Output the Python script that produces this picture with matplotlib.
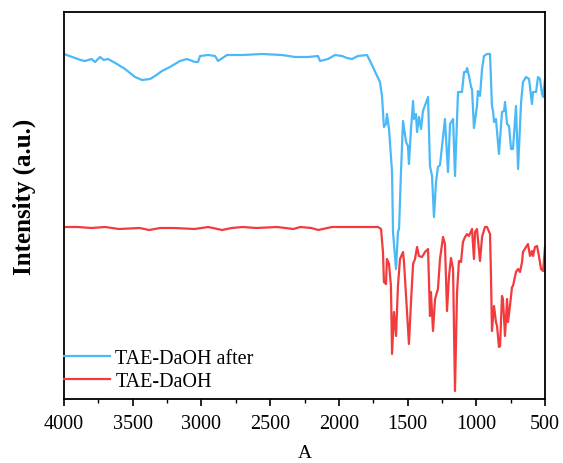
import numpy as np
import matplotlib
matplotlib.use("Agg")
import matplotlib.pyplot as plt
from matplotlib.ticker import MultipleLocator

# FTIR spectra (wavenumber in cm-1, intensity in a.u.)
wn_after = [4000, 3960, 3920, 3880, 3847, 3800, 3774, 3738, 3710, 3680, 3614, 3556,
            3483, 3432, 3374, 3338, 3287, 3229, 3156, 3105, 3047, 3025, 3010, 2952,
            2901, 2879, 2814, 2705, 2559, 2414, 2319, 2225, 2152, 2137, 2079, 2028,
            1977, 1941, 1904, 1861, 1795, 1773, 1752, 1722, 1701, 1686, 1672, 1657,
            1650, 1635, 1613, 1606, 1584, 1570, 1562, 1548, 1533, 1511, 1497, 1490,
            1475, 1460, 1453, 1439, 1431, 1417, 1402, 1388, 1351, 1337, 1322, 1308,
            1293, 1279, 1264, 1228, 1206, 1191, 1169, 1155, 1133, 1104, 1089, 1075,
            1067, 1053, 1038, 1031, 1017, 995, 988, 973, 958, 944, 922, 900, 886,
            878, 871, 857, 835, 813, 798, 791, 776, 762, 747, 733, 711, 696, 674,
            660, 638, 616, 595, 587, 565, 551, 536, 522, 514, 500]
int_after = [3.45, 3.43, 3.41, 3.39, 3.38, 3.40, 3.37, 3.42, 3.39, 3.40, 3.35, 3.30,
             3.22, 3.19, 3.20, 3.23, 3.28, 3.32, 3.38, 3.40, 3.37, 3.37, 3.43, 3.44,
             3.43, 3.38, 3.44, 3.44, 3.45, 3.44, 3.42, 3.42, 3.43, 3.38, 3.40, 3.44,
             3.43, 3.41, 3.40, 3.43, 3.44, 3.38, 3.32, 3.23, 3.17, 3.03, 2.72, 2.75,
             2.85, 2.70, 2.27, 1.67, 1.30, 1.67, 1.70, 2.27, 2.78, 2.57, 2.53, 2.35,
             2.70, 2.98, 2.80, 2.85, 2.67, 2.82, 2.70, 2.88, 3.02, 2.33, 2.23, 1.82,
             2.17, 2.32, 2.34, 2.80, 2.27, 2.75, 2.80, 2.23, 3.07, 3.07, 3.27, 3.27,
             3.31, 3.23, 3.12, 3.10, 2.71, 2.93, 3.08, 3.03, 3.30, 3.43, 3.45, 3.45,
             2.93, 2.88, 2.77, 2.80, 2.45, 2.87, 2.88, 2.97, 2.75, 2.73, 2.50, 2.50,
             2.93, 2.30, 2.97, 3.17, 3.22, 3.20, 2.95, 3.07, 3.07, 3.22, 3.20, 3.05,
             3.02, 3.20]

wn_before = [4000, 3900, 3800, 3700, 3600, 3450, 3380, 3300, 3200, 3050, 2950, 2850,
             2780, 2700, 2600, 2450, 2330, 2280, 2200, 2150, 2050, 1950, 1846, 1715,
             1693, 1679, 1672, 1657, 1650, 1635, 1621, 1613, 1599, 1584, 1570, 1555,
             1533, 1526, 1504, 1490, 1475, 1460, 1446, 1431, 1417, 1395, 1373, 1351,
             1337, 1330, 1315, 1300, 1279, 1264, 1242, 1228, 1213, 1199, 1184, 1169,
             1155, 1140, 1126, 1111, 1097, 1082, 1067, 1053, 1031, 1017, 1009, 995,
             988, 973, 958, 937, 922, 900, 893, 886, 871, 857, 849, 835, 827, 813,
             806, 791, 776, 769, 755, 740, 733, 711, 696, 682, 667, 660, 638, 624,
             609, 595, 587, 573, 558, 544, 529, 514, 500]
int_before = [1.72, 1.72, 1.71, 1.72, 1.70, 1.71, 1.69, 1.71, 1.71, 1.70, 1.72, 1.69,
              1.71, 1.72, 1.71, 1.72, 1.70, 1.72, 1.71, 1.69, 1.72, 1.72, 1.72, 1.72,
              1.70, 1.47, 1.17, 1.15, 1.40, 1.35, 1.13, 0.45, 0.87, 0.63, 1.13, 1.40,
              1.47, 1.37, 0.87, 0.55, 0.97, 1.35, 1.40, 1.52, 1.43, 1.42, 1.47, 1.50,
              0.83, 1.07, 0.68, 1.00, 1.10, 1.40, 1.62, 1.55, 0.88, 1.22, 1.41, 1.30,
              0.08, 1.07, 1.38, 1.37, 1.57, 1.62, 1.65, 1.63, 1.70, 1.40, 1.67, 1.70,
              1.60, 1.38, 1.62, 1.72, 1.72, 1.65, 1.23, 0.68, 0.93, 0.77, 0.73, 0.52,
              0.53, 1.03, 1.00, 0.63, 1.00, 0.77, 0.93, 1.12, 1.13, 1.27, 1.30, 1.27,
              1.37, 1.47, 1.52, 1.55, 1.43, 1.48, 1.43, 1.52, 1.53, 1.43, 1.30, 1.28,
              1.52]

labels = ["TAE-DaOH after", "TAE-DaOH"]
colors = ["#4BB9F7", "#F13B3D"]

plt.rcParams['font.family'] = ['Liberation Serif', 'DejaVu Serif']

fig = plt.figure(figsize=(5.63, 4.64), dpi=100)
ax = fig.add_axes([64 / 563, 1 - 400 / 464, 481 / 563, 387 / 464])

ax.plot(wn_after, int_after, color=colors[0], lw=1.6, label=labels[0])
ax.plot(wn_before, int_before, color=colors[1], lw=1.6, label=labels[1])

ax.set_xlim(4000, 500)
ax.set_ylim(0, 3.87)
ax.xaxis.set_major_locator(MultipleLocator(500))
ax.xaxis.set_minor_locator(MultipleLocator(250))
ax.set_yticks([])
ax.tick_params(axis='x', which='major', direction='out', length=5, width=1.2,
               labelsize=14.5, pad=6)
ax.tick_params(axis='x', which='minor', direction='out', length=3, width=1.0)
for sp in ax.spines.values():
    sp.set_linewidth(1.3)

ax.set_xlabel("A", fontsize=14, labelpad=8)
ax.set_ylabel("Intensity (a.u.)", fontsize=18, fontweight='bold')
ax.yaxis.set_label_coords(-0.058, 0.525)

ax.legend(loc='lower left', bbox_to_anchor=(0, 0.02), frameon=False,
          fontsize=14.5, handlelength=2.3, handletextpad=0.25,
          borderaxespad=0, borderpad=0, labelspacing=0.2)

fig.savefig("out.png", dpi=100)
